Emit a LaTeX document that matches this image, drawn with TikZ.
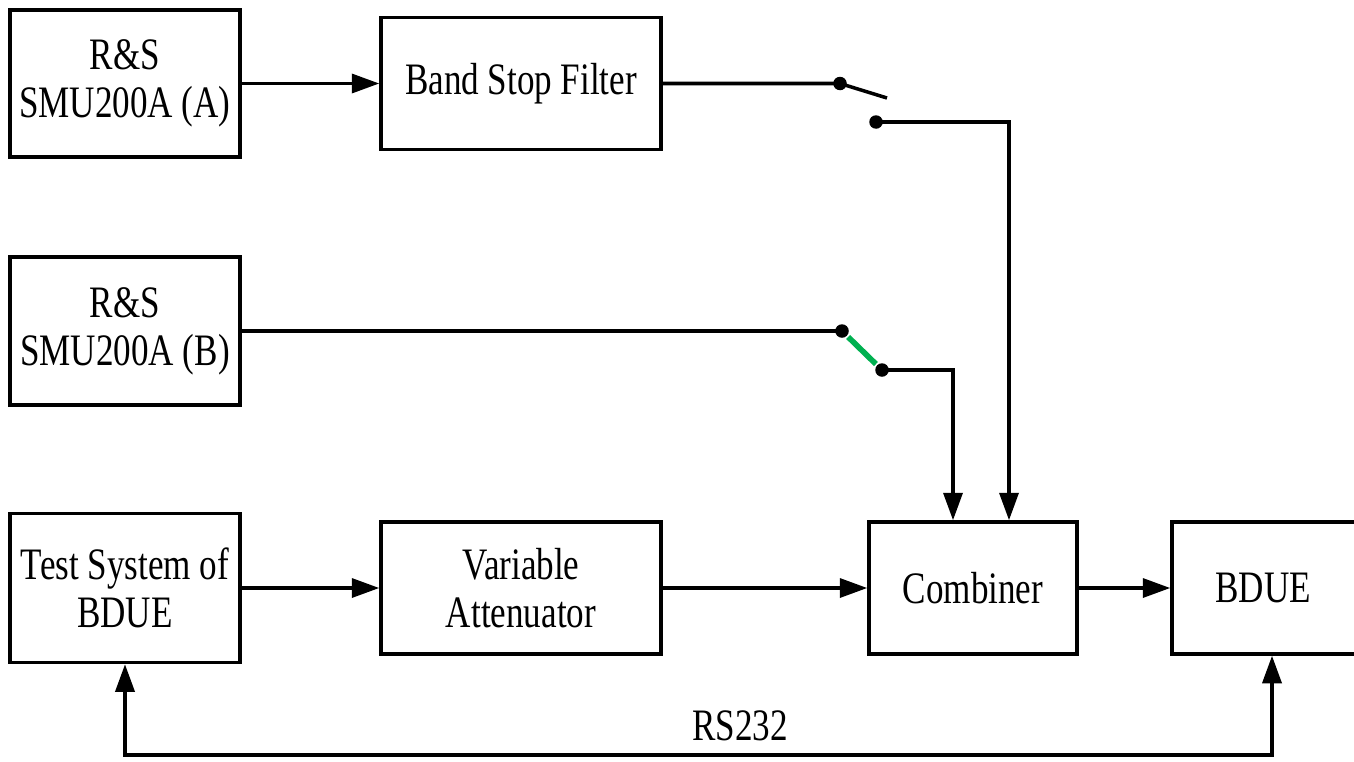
\documentclass[tikz,border=0pt]{standalone}
\usepackage{fontspec}
\setmainfont{Liberation Serif}[FakeStretch=0.78]
\usetikzlibrary{calc,arrows.meta}
\definecolor{swgreen}{RGB}{0,176,80}

\begin{document}
\begin{tikzpicture}[x=0.02cm,y=-0.02cm,line width=2pt,
		box/.style={draw,rectangle,align=center,font=\fontsize{25.6}{27.3}\selectfont,minimum height=2.64cm},
		pin/.style={circle,fill,inner sep=0pt,minimum size=0.27cm},
		>={Triangle[length=0.55cm,width=0.38cm]}]
		\clip (0,0) rectangle (1354,761);
		\node [box,minimum width=4.6cm,minimum height=2.94cm] (1) at (125,83.5) {R\&S\\SMU200A (A)};
		\node [box,minimum width=5.6cm] (2) at (521,83.5) {Band Stop Filter};
		\node [box,minimum width=4.6cm,minimum height=2.96cm] (3) at (125,331) {R\&S\\SMU200A (B)};
		\node [box,minimum width=4.6cm,minimum height=2.98cm] (4) at (125,588) {Test System of\\BDUE};
		\node [box,minimum width=5.6cm] (5) at (521,588) {Variable\\Attenuator};
		\node [box,minimum width=4.16cm] (6) at (973,588) {Combiner};
		\node [box,minimum width=4cm] (7) at (1272,588) {BDUE\hspace*{0.36cm}};
		\node [pin] (s1) at (840,83.5) {};
		\node [pin] (s2) at (876,122) {};
		\coordinate (l1) at (887,98);
		\node [pin] (s3) at (842,331) {};
		\node [pin] (s4) at (882,370) {};
		\coordinate (8) at (125,755);
		\node [font=\fontsize{25.6}{27.3}\selectfont] (9) at (740,726) {RS232};
		\draw [->] (1) -- (2) ;
		\draw (2) -- (s1.center) -- (l1) ;
		\draw [->] (s2.center) -| ($(6.north)+(36,0)$) ;
		\draw (3) -- (s3.center) ;
		\draw [swgreen,line width=3.2pt] (s3) -- (s4) ;
		\draw [->] (s4.center) -| ($(6.north)+(-20,0)$) ;
		\draw [->] (4) -- (5) ;
		\draw [->] (5) -- (6) ;
		\draw [->] (6) -- (7) ;
		\draw [<->] (4.south) -- (8) -| (7.south) ;
		\end{tikzpicture}
\end{document}
